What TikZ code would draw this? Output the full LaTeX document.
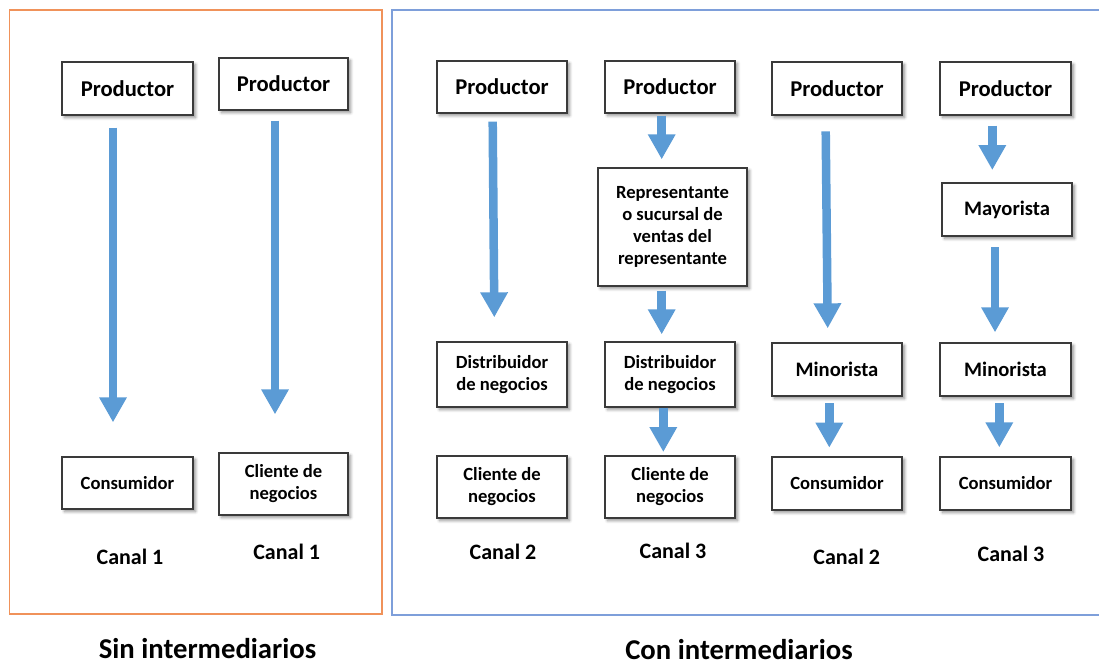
\documentclass[tikz,border=0pt]{standalone}
\usepackage{fontspec}
\setmainfont{Carlito}
\usetikzlibrary{arrows.meta,shadows.blur,calc}

\definecolor{flowblue}{HTML}{5B9BD5}
\definecolor{frameorange}{HTML}{F0925A}
\definecolor{frameblue}{HTML}{7E9FDA}
\definecolor{boxline}{HTML}{3A3A3A}

\tikzset{
  box/.style={draw=boxline, line width=1.3pt, fill=white, inner sep=0pt,
    align=center, font=\bfseries\fontsize{18.6}{22}\selectfont,
    blur shadow={shadow xshift=2.5pt, shadow yshift=-2.5pt, shadow blur steps=6,
      shadow blur radius=3pt, shadow opacity=45}},
  bigtext/.style={font=\bfseries\fontsize{22.6}{26}\selectfont},
  midtext/.style={font=\bfseries\fontsize{20.6}{24}\selectfont},
  canal/.style={font=\bfseries\fontsize{22}{26}\selectfont, inner sep=0pt},
  heading/.style={font=\bfseries\fontsize{28.7}{32}\selectfont, inner sep=0pt},
  flow/.style={draw=flowblue, line width=8.5pt,
    -{Triangle[width=26pt,length=25pt,fill=flowblue]}},
}

\begin{document}
\begin{tikzpicture}[x=1pt,y=-1pt]
\useasboundingbox (0,0) rectangle (1099,666);

% frames
\draw[frameorange, line width=1.3pt] (9.5,10) rectangle (382,614);
\draw[frameblue, line width=1.3pt] (1105,10) -- (392,10) -- (392,615) -- (1105,615);

% without intermediaries
\node[box, bigtext, minimum width=131pt, minimum height=53pt] (p1) at (127.5,88.5) {Productor};
\node[box, bigtext, minimum width=129pt, minimum height=52pt] (p2) at (283.5,84) {Productor};
\node[box, minimum width=131pt, minimum height=52pt] (c1) at (127.5,483) {Consumidor};
\node[box, minimum width=129pt, minimum height=62pt] (b1) at (283.5,484) {Cliente de\\negocios};

% with intermediaries
\node[box, bigtext, minimum width=130pt, minimum height=52pt] (p3) at (502,87) {Productor};
\node[box, bigtext, minimum width=130pt, minimum height=52pt] (p4) at (670,87) {Productor};
\node[box, bigtext, minimum width=130pt, minimum height=53pt] (p5) at (837,88.5) {Productor};
\node[box, bigtext, minimum width=131pt, minimum height=53pt] (p6) at (1005.5,88.5) {Productor};

\node[box, minimum width=149pt, minimum height=118pt] (r4) at (672.5,227)
  {Representante\\o sucursal de\\ventas del\\representante};
\node[box, midtext, minimum width=130pt, minimum height=53pt] (m6) at (1007,209.5) {Mayorista};

\node[box, minimum width=130pt, minimum height=65pt] (d3) at (502,374.5) {Distribuidor\\de negocios};
\node[box, minimum width=130pt, minimum height=65pt] (d4) at (670,374.5) {Distribuidor\\de negocios};
\node[box, midtext, minimum width=130pt, minimum height=53pt] (n5) at (837,369.5) {Minorista};
\node[box, midtext, minimum width=131pt, minimum height=53pt] (n6) at (1005.5,369.5) {Minorista};

\node[box, minimum width=130pt, minimum height=62pt] (k3) at (502,487) {Cliente de\\negocios};
\node[box, minimum width=130pt, minimum height=62pt] (k4) at (670,487) {Cliente de\\negocios};
\node[box, minimum width=130pt, minimum height=53pt] (s5) at (837,483.5) {Consumidor};
\node[box, minimum width=131pt, minimum height=53pt] (s6) at (1005.5,483.5) {Consumidor};

% flow arrows
\draw[flow] ($(p1.south)+(-14.5,12)$) -- ($(c1.north)+(-14.5,-34)$);
\draw[flow] ($(p2.south)+(-8.5,10)$) -- ($(b1.north)+(-8.5,-38)$);
\draw[flow] ($(p3.south)+(-9.3,8)$) -- ($(d3.north)+(-7.7,-24)$);
\draw[flow] ($(p4.south)+(-8.3,2)$) -- ($(r4.north)+(-10.8,-8)$);
\draw[flow] ($(r4.south)+(-10.8,4)$) -- ($(d4.north)+(-8.3,-7)$);
\draw[flow] ($(d4.south)+(-6.7,0)$) -- ($(k4.north)+(-6.7,-3.3)$);
\draw[flow] ($(p5.south)+(-11.3,15.7)$) -- ($(n5.north)+(-9.3,-14)$);
\draw[flow] ($(n5.south)+(-7.7,6.7)$) -- ($(s5.north)+(-7.7,-8.7)$);
\draw[flow] ($(p6.south)+(-13.2,10)$) -- ($(m6.north)+(-14.7,-12.3)$);
\draw[flow] ($(m6.south)+(-12,10.7)$) -- ($(n6.north)+(-10.5,-10)$);
\draw[flow] ($(n6.south)+(-6.2,6.7)$) -- ($(s6.north)+(-6.2,-9)$);

% channel labels
\node[canal] (l1) at (130,557) {Canal 1};
\node[canal] (l2) at (286.7,551.7) {Canal 1};
\node[canal] (l3) at (503,551.7) {Canal 2};
\node[canal] (l4) at (673,550.7) {Canal 3};
\node[canal] (l5) at (846.7,556.7) {Canal 2};
\node[canal] (l6) at (1011,554.3) {Canal 3};

% group headings
\node[heading] (h1) at (207.5,649) {Sin intermediarios};
\node[heading] (h2) at (739,649.5) {Con intermediarios};
\end{tikzpicture}
\end{document}
